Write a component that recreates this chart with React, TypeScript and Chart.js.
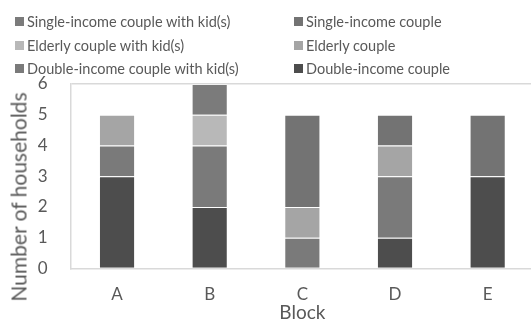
import React, { useEffect, useRef } from "react";
import { Chart, registerables } from "chart.js";
Chart.register(...registerables);

const categories = ["A", "B", "C", "D", "E"];
const seriesNames = [
  "Double-income couple",
  "Double-income couple with kid(s)",
  "Elderly couple",
  "Elderly couple with kid(s)",
  "Single-income couple",
  "Single-income couple with kid(s)",
];
const doubleIncome = [3, 2, 0, 1, 3];
const doubleIncomeKids = [1, 2, 1, 2, 0];
const elderly = [1, 0, 1, 1, 0];
const elderlyKids = [0, 1, 0, 0, 0];
const singleIncome = [0, 0, 3, 1, 2];
const singleIncomeKids = [0, 1, 0, 0, 0];
const seriesValues = [doubleIncome, doubleIncomeKids, elderly, elderlyKids, singleIncome, singleIncomeKids];
const seriesColors = ["#4d4d4d", "#7a7a7a", "#a5a5a5", "#b8b8b8", "#737373", "#7b7b7b"];
// legend order (rows, two columns)
const legendOrder = [5, 4, 3, 2, 1, 0];
const yMin = 0;
const yMax = 6;
const yStep = 1;

const textColor = "#595959";
const fontFamily = "Lato, 'Open Sans', sans-serif";

export default function App() {
  const ref = useRef<HTMLCanvasElement>(null);
  useEffect(() => {
    const chart = new Chart(ref.current!, {
      type: "bar",
      data: {
        labels: categories,
        datasets: seriesNames.map((name, i) => ({
          label: name,
          data: seriesValues[i],
          backgroundColor: seriesColors[i],
          borderColor: "rgba(255,255,255,0.25)",
          borderWidth: 1,
          barPercentage: 0.39,
          categoryPercentage: 1,
        })),
      },
      options: {
        animation: false,
        responsive: false,
        layout: { padding: { top: 84, right: 0, left: 0, bottom: 0 } },
        plugins: { legend: { display: false }, tooltip: { enabled: false } },
        scales: {
          x: {
            stacked: true,
            grid: { display: false, drawTicks: false },
            border: { color: "#d9d9d9", width: 1.5 },
            ticks: { color: textColor, font: { family: fontFamily, size: 17 }, padding: 16 },
            title: {
              display: true,
              text: "Block",
              color: textColor,
              font: { family: fontFamily, size: 19 },
              padding: { top: 0, bottom: 6 },
            },
            afterFit: (s: any) => {
              s.height = 61.5;
            },
          },
          y: {
            stacked: true,
            min: yMin,
            max: yMax,
            ticks: { stepSize: yStep, color: textColor, font: { family: fontFamily, size: 17 }, padding: 23 },
            grid: {
              drawTicks: false,
              color: (ctx: any) => (ctx.tick && ctx.tick.value === yMax ? "#d9d9d9" : "rgba(0,0,0,0)"),
              lineWidth: 1.5,
            },
            border: { color: "#d9d9d9", width: 1.5 },
            afterFit: (s: any) => {
              s.width = 70.7;
            },
          },
        },
      },
    });
    return () => chart.destroy();
  }, []);

  const legendRows = [17, 40.5, 64];
  const legendCols = [15, 294];

  return (
    <div style={{ position: "fixed", left: 0, top: 0, width: 534, height: 320, overflow: "hidden", background: "#fff" }}>
      <canvas ref={ref} width={534} height={330} style={{ position: "absolute", left: 0, top: 0 }} />
      {legendOrder.map((si, k) => {
        const row = Math.floor(k / 2);
        const col = k % 2;
        return (
          <div
            key={si}
            style={{
              position: "absolute",
              left: legendCols[col],
              top: legendRows[row] + 4.5 - 10,
              height: 20,
              display: "flex",
              alignItems: "center",
              whiteSpace: "nowrap",
              fontFamily,
              fontSize: 14.5,
              color: textColor,
            }}
          >
            <span style={{ display: "inline-block", width: 9, height: 9, background: seriesColors[si], marginRight: 3 }} />
            <span>{seriesNames[si]}</span>
          </div>
        );
      })}
      <div
        style={{
          position: "absolute",
          left: 18,
          top: 197,
          transform: "translate(-50%, -50%) rotate(-90deg)",
          whiteSpace: "nowrap",
          fontFamily,
          fontSize: 21,
          color: textColor,
        }}
      >
        Number of households
      </div>
    </div>
  );
}
